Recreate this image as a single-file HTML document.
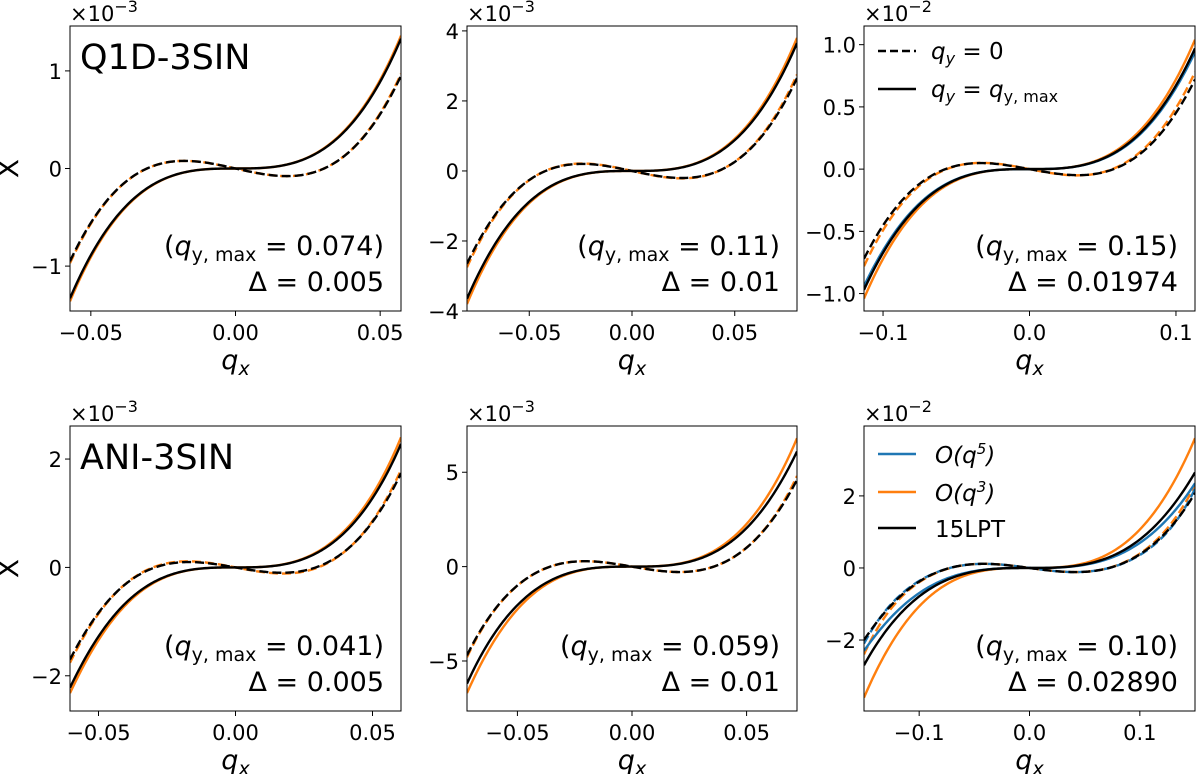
<!DOCTYPE html>
<html><head><meta charset="utf-8">
<style>
html,body{margin:0;padding:0;background:#fff;}
svg{display:block;font-family:"DejaVu Sans","Liberation Sans",sans-serif;}
</style></head>
<body>
<svg id="fig" width="1200" height="774" viewBox="0 0 1200 774" xmlns="http://www.w3.org/2000/svg"></svg>
<script>
// normalized sample positions (fraction of half x-range)
const uSamples = [-1,-0.75,-0.5,-0.25,0,0.25,0.5,0.75,1];

// Panel 1 (Q1D-3SIN, x1e-3)
const p1Black  = [-1.33,-0.561,-0.166,-0.021,0,0.021,0.166,0.561,1.33];
const p1Orange = [-1.36,-0.574,-0.17,-0.021,0,0.021,0.17,0.574,1.36];
const p1BlackD = [-0.95,-0.276,0.024,0.074,0,-0.074,-0.024,0.276,0.95];
const p1OrangeD= [-0.97,-0.28,0.024,0.074,0,-0.074,-0.024,0.28,0.97];
// Panel 2
const p2Black  = [-3.65,-1.54,-0.456,-0.057,0,0.057,0.456,1.54,3.65];
const p2Orange = [-3.8,-1.603,-0.475,-0.059,0,0.059,0.475,1.603,3.8];
const p2BlackD = [-2.65,-0.79,0.044,0.193,0,-0.193,-0.044,0.79,2.65];
const p2OrangeD= [-2.75,-0.815,0.05,0.203,0,-0.203,-0.05,0.815,2.75];
// Panel 3 (x1e-2)
const p3Black  = [-0.97,-0.409,-0.121,-0.015,0,0.015,0.121,0.409,0.97];
const p3Blue   = [-0.94,-0.397,-0.117,-0.015,0,0.015,0.117,0.397,0.94];
const p3Orange = [-1.04,-0.439,-0.13,-0.016,0,0.016,0.13,0.439,1.04];
const p3BlackD = [-0.72,-0.222,0.004,0.047,0,-0.047,-0.004,0.222,0.72];
const p3OrangeD= [-0.78,-0.244,0,0.049,0,-0.049,0,0.244,0.78];
// Panel 4 (ANI-3SIN, x1e-3)
const p4Black  = [-2.22,-0.949,-0.281,-0.035,0,0.035,0.281,0.949,2.28];
const p4Orange = [-2.32,-1.0,-0.296,-0.037,0,0.037,0.296,1.0,2.4];
const p4BlackD = [-1.7,-0.552,-0.016,0.097,0,-0.097,0.016,0.552,1.74];
const p4OrangeD= [-1.76,-0.558,-0.001,0.11,0,-0.11,0.001,0.558,1.8];
// Panel 5
const p5Black  = [-6.2,-2.574,-0.763,-0.095,0,0.095,0.763,2.574,6.1];
const p5Orange = [-6.7,-2.848,-0.844,-0.105,0,0.105,0.844,2.848,6.8];
const p5BlackD = [-4.7,-1.449,-0.013,0.28,0,-0.28,0.013,1.449,4.6];
const p5OrangeD= [-4.8,-1.46,-0.013,0.28,0,-0.28,0.013,1.46,4.8];
// Panel 6 (x1e-2)
const p6Black  = [-2.7,-1.126,-0.334,-0.042,0,0.042,0.334,1.126,2.65];
const p6Orange = [-3.6,-1.519,-0.45,-0.056,0,0.056,0.45,1.519,3.6];
const p6Blue   = [-2.3,-0.991,-0.294,-0.037,0,0.037,0.294,0.991,2.35];
const p6BlackD = [-2.0,-0.661,-0.024,0.113,0,-0.113,0.024,0.661,2.08];
const p6OrangeD= [-2.4,-0.70,-0.03,0.113,0,-0.113,0.03,0.70,2.3];
const p6BlueD  = [-2.1,-0.63,-0.024,0.113,0,-0.113,0.024,0.63,2.2];

const BLUE="#1f77b4", ORANGE="#ff7f0e", BLACK="#000";
const panels = [
 {name:"q1d-panel-1",x0:70,y0:26,w:331,h:285,xl:0.0572,ylo:-1.46,yhi:1.46,xt:[-0.05,0,0.05],xtl:["−0.05","0.00","0.05"],yt:[-1,0,1],ytl:["−1","0","1"],exp:"−3",title:"Q1D-3SIN",qy:"0.074",delta:"0.005",ylab:true,
  series:[[p1Orange,ORANGE,false],[p1OrangeD,ORANGE,true],[p1Black,BLACK,false],[p1BlackD,BLACK,true]]},
 {name:"q1d-panel-2",x0:467,y0:26,w:330,h:285,xl:0.0803,ylo:-4.0,yhi:4.14,xt:[-0.05,0,0.05],xtl:["−0.05","0.00","0.05"],yt:[-4,-2,0,2,4],ytl:["−4","−2","0","2","4"],exp:"−3",qy:"0.11",delta:"0.01",
  series:[[p2Orange,ORANGE,false],[p2OrangeD,ORANGE,true],[p2Black,BLACK,false],[p2BlackD,BLACK,true]]},
 {name:"q1d-panel-3",x0:864,y0:26,w:331,h:285,xl:0.113,ylo:-1.14,yhi:1.15,xt:[-0.1,0,0.1],xtl:["−0.1","0.0","0.1"],yt:[-1,-0.5,0,0.5,1],ytl:["−1.0","−0.5","0.0","0.5","1.0"],exp:"−2",qy:"0.15",delta:"0.01974",legend1:true,
  series:[[p3Orange,ORANGE,false],[p3OrangeD,ORANGE,true],[p3Blue,BLUE,false],[p3Black,BLACK,false],[p3BlackD,BLACK,true]]},
 {name:"ani-panel-1",x0:70,y0:426,w:331,h:285,xl:0.0604,ylo:-2.65,yhi:2.61,xt:[-0.05,0,0.05],xtl:["−0.05","0.00","0.05"],yt:[-2,0,2],ytl:["−2","0","2"],exp:"−3",title:"ANI-3SIN",qy:"0.041",delta:"0.005",ylab:true,
  series:[[p4Orange,ORANGE,false],[p4OrangeD,ORANGE,true],[p4Black,BLACK,false],[p4BlackD,BLACK,true]]},
 {name:"ani-panel-2",x0:467,y0:426,w:330,h:285,xl:0.072,ylo:-7.65,yhi:7.45,xt:[-0.05,0,0.05],xtl:["−0.05","0.00","0.05"],yt:[-5,0,5],ytl:["−5","0","5"],exp:"−3",qy:"0.059",delta:"0.01",
  series:[[p5Orange,ORANGE,false],[p5OrangeD,ORANGE,true],[p5Black,BLACK,false],[p5BlackD,BLACK,true]]},
 {name:"ani-panel-3",x0:864,y0:426,w:331,h:285,xl:0.15,ylo:-3.97,yhi:3.94,xt:[-0.1,0,0.1],xtl:["−0.1","0.0","0.1"],yt:[-2,0,2],ytl:["−2","0","2"],exp:"−2",qy:"0.10",delta:"0.02890",legend2:true,
  series:[[p6Orange,ORANGE,false],[p6OrangeD,ORANGE,true],[p6Blue,BLUE,false],[p6BlueD,BLUE,true],[p6Black,BLACK,false],[p6BlackD,BLACK,true]]}
];
const NS="http://www.w3.org/2000/svg";
const svg=document.getElementById('fig');
function mk(tag,attrs,parent){const e=document.createElementNS(NS,tag);for(const k in attrs)e.setAttribute(k,attrs[k]);(parent||svg).appendChild(e);return e;}
function lagrange(xs,ys,x){let s=0;for(let i=0;i<xs.length;i++){let l=1;for(let j=0;j<xs.length;j++){if(j!==i)l*=(x-xs[j])/(xs[i]-xs[j]);}s+=ys[i]*l;}return s;}
panels.forEach((P,pi)=>{
 const g=mk('g',{});
 
 
 const sx=q=>P.x0+(q+P.xl)/(2*P.xl)*P.w;
 const sy=v=>P.y0+(P.yhi-v)/(P.yhi-P.ylo)*P.h;
 const cid="clip"+pi;
 const cp=mk('clipPath',{id:cid},g);mk('rect',{x:P.x0,y:P.y0,width:P.w,height:P.h},cp);
 const sg=mk('g',{'clip-path':'url(#'+cid+')'},g);
 P.series.forEach(s=>{
  let d="";
  for(let k=0;k<=200;k++){const u=-1+2*k/200;const v=lagrange(uSamples,s[0],u);
   d+=(k?"L":"M")+sx(u*P.xl).toFixed(2)+","+sy(v).toFixed(2);}
  const p=mk('path',{d:d,fill:'none',stroke:s[1],'stroke-width':2.4,'stroke-dasharray':s[2]?'9,4':'none'},sg);
  
  
 });
 const fr=mk('rect',{x:P.x0,y:P.y0,width:P.w,height:P.h,fill:'none',stroke:'#000','stroke-width':1},g);
 
 
 P.xt.forEach((t,i)=>{const x=sx(t);mk('line',{x1:x,x2:x,y1:P.y0+P.h,y2:P.y0+P.h+5,stroke:'#000'},g);
  const tx=mk('text',{x:x,y:P.y0+P.h+29,'font-size':21,'text-anchor':'middle'},g);tx.textContent=P.xtl[i];
  
  });
 P.yt.forEach((t,i)=>{const y=sy(t);mk('line',{x1:P.x0-5,x2:P.x0,y1:y,y2:y,stroke:'#000'},g);
  const tx=mk('text',{x:P.x0-8,y:y+8,'font-size':21,'text-anchor':'end'},g);tx.textContent=P.ytl[i];
  
  });
 const ex=mk('text',{x:P.x0,y:P.y0-5,'font-size':21},g);
 ex.innerHTML='×10<tspan dy="-9" font-size="16">'+P.exp+'</tspan>';
 
 
 const xl=mk('text',{x:P.x0+P.w/2,y:P.y0+P.h+58,'font-size':27,'text-anchor':'middle','font-style':'italic'},g);
 xl.innerHTML='q<tspan dy="6" font-size="19">x</tspan>';
 
 
 if(P.ylab){const yl=mk('text',{x:13,y:P.y0+P.h/2+5,'font-size':28,'text-anchor':'middle',transform:'rotate(-90 13 '+(P.y0+P.h/2)+')'},g);yl.textContent='X';
  
  }
 if(P.title){const t=mk('text',{x:P.x0+10,y:P.y0+43,'font-size':35},g);t.textContent=P.title;
  
  }
 const a1=mk('text',{x:P.x0+P.w-17,y:P.y0+229,'font-size':27,'text-anchor':'end'},g);
 a1.innerHTML='(<tspan font-style="italic">q</tspan><tspan dy="6" font-size="19">y, max</tspan><tspan dy="-6"> = '+P.qy+')</tspan>';
 
 
 const a2=mk('text',{x:P.x0+P.w-17,y:P.y0+265,'font-size':27,'text-anchor':'end'},g);
 a2.textContent='Δ = '+P.delta;
 
 
 if(P.legend1){
  const lg=mk('g',{},g);
  
  
  mk('line',{x1:P.x0+14,x2:P.x0+52,y1:P.y0+25,y2:P.y0+25,stroke:'#000','stroke-width':2.4,'stroke-dasharray':'8,4'},lg);
  const t1=mk('text',{x:P.x0+67,y:P.y0+33,'font-size':23},lg);t1.innerHTML='<tspan font-style="italic">q</tspan><tspan dy="5" font-size="16" font-style="italic">y</tspan><tspan dy="-5"> = 0</tspan>';
  
  
  mk('line',{x1:P.x0+14,x2:P.x0+52,y1:P.y0+63,y2:P.y0+63,stroke:'#000','stroke-width':2.4},lg);
  const t2=mk('text',{x:P.x0+67,y:P.y0+71,'font-size':23},lg);t2.innerHTML='<tspan font-style="italic">q</tspan><tspan dy="5" font-size="16" font-style="italic">y</tspan><tspan dy="-5"> = </tspan><tspan font-style="italic">q</tspan><tspan dy="5" font-size="16">y, max</tspan>';
  
  
 }
 if(P.legend2){
  const lg=mk('g',{},g);
  
  
  [["O(q<tspan dy='-9' font-size='15'>5</tspan><tspan dy='9'>)</tspan>",BLUE,28],["O(q<tspan dy='-9' font-size='15'>3</tspan><tspan dy='9'>)</tspan>",ORANGE,66],["15LPT",BLACK,102]].forEach((e,i)=>{
   mk('line',{x1:P.x0+14,x2:P.x0+52,y1:P.y0+e[2],y2:P.y0+e[2],stroke:e[1],'stroke-width':2.4},lg);
   const t=mk('text',{x:P.x0+71,y:P.y0+e[2]+9,'font-size':23,'font-style':i<2?'italic':'normal'},lg);t.innerHTML=e[0];
   
   
  });
 }
});
</script>
</body></html>
